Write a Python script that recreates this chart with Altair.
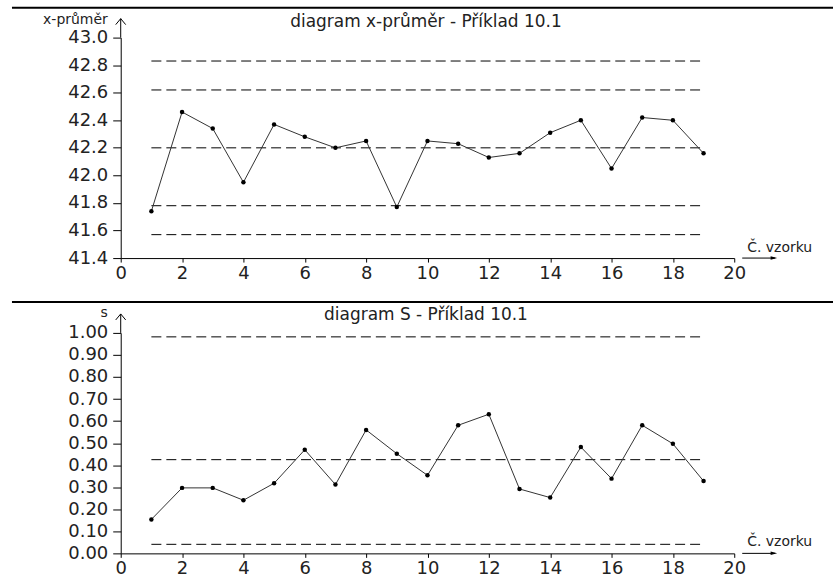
import altair as alt
import pandas as pd

# ---- data ----
sample = list(range(1, 20))
xbar = [41.74, 42.46, 42.34, 41.95, 42.37, 42.28, 42.20, 42.25, 41.77, 42.25,
        42.23, 42.13, 42.16, 42.31, 42.40, 42.05, 42.42, 42.40, 42.16]
s_vals = [0.154, 0.297, 0.297, 0.241, 0.318, 0.470, 0.312, 0.560, 0.452, 0.354,
          0.581, 0.631, 0.292, 0.253, 0.482, 0.339, 0.581, 0.497, 0.328]
xbar_limits = [42.83, 42.62, 42.20, 41.78, 41.57]
s_limits = [0.982, 0.425, 0.041]
x_ticks = [0, 2, 4, 6, 8, 10, 12, 14, 16, 18, 20]
xbar_ticks = [41.4, 41.6, 41.8, 42.0, 42.2, 42.4, 42.6, 42.8, 43.0]
s_ticks = [0.0, 0.1, 0.2, 0.3, 0.4, 0.5, 0.6, 0.7, 0.8, 0.9, 1.0]
titles = ["diagram x-průměr - Příklad 10.1", "diagram S - Příklad 10.1"]
y_titles = ["x-průměr", "s"]
x_title = "Č. vzorku"

FONT = "DejaVu Sans"
W, H = 615, 221


def panel(values, limits, domain, ticks, fmt, title, ytitle, title_y, ylab_y, xlab_y, sep_y):
    df = pd.DataFrame({"n": sample, "v": values})
    xs = alt.Scale(domain=[0, 20], nice=False)
    ys = alt.Scale(domain=domain, nice=False, zero=False)
    xax = alt.Axis(values=x_ticks, title=None, grid=False, tickSize=4, labelPadding=2,
                   labelFont=FONT, labelFontSize=18, labelColor="#222",
                   domainColor="black", tickColor="black", labelFlush=False,
                   labelOverlap=False)
    yax = alt.Axis(values=ticks, format=fmt, title=None, grid=False, tickSize=8,
                   labelPadding=5, labelFont=FONT, labelFontSize=18, labelColor="#222",
                   domainColor="black", tickColor="black", labelFlush=False,
                   labelOverlap=False)
    x = alt.X("n:Q", scale=xs, axis=xax)
    y = alt.Y("v:Q", scale=ys, axis=yax)

    base = alt.Chart(df)
    line = base.mark_line(color="#333", strokeWidth=1).encode(x=x, y=y)
    pts = base.mark_circle(size=20, color="black", opacity=1).encode(x=x, y=y)
    lim = alt.Chart(pd.DataFrame({"v": limits})).mark_rule(
        color="black", strokeWidth=1, strokeDash=[10, 5]
    ).encode(y=y, x=alt.datum(1), x2=alt.datum(19))

    one = pd.DataFrame({"a": [0]})
    sep = alt.Chart(one).mark_rule(color="black", strokeWidth=2).encode(
        x=alt.value(-109), x2=alt.value(714), y=alt.value(sep_y))
    yline = alt.Chart(one).mark_rule(color="black", strokeWidth=1).encode(
        x=alt.value(0), y=alt.value(0), y2=alt.value(-19))
    yhead = alt.Chart(one).mark_point(
        shape="M-1,1.2L0,0L1,1.2", size=100, filled=False, color="black",
        strokeWidth=1, opacity=1
    ).encode(x=alt.value(0), y=alt.value(-19))
    xline = alt.Chart(one).mark_rule(color="black", strokeWidth=1).encode(
        x=alt.value(623), x2=alt.value(656), y=alt.value(H))
    xhead = alt.Chart(one).mark_point(
        shape="M0,0L-2.6,-0.7L-2.6,0.7Z", size=25, filled=True, color="black", opacity=1
    ).encode(x=alt.value(658), y=alt.value(H))
    ttl = alt.Chart(one).mark_text(font=FONT, fontSize=17, align="center",
                                   baseline="alphabetic", color="#222").encode(
        x=alt.value(306), y=alt.value(title_y), text=alt.value(title))
    ylab = alt.Chart(one).mark_text(font=FONT, fontSize=14, align="right",
                                    baseline="alphabetic", color="#222").encode(
        x=alt.value(-13), y=alt.value(ylab_y), text=alt.value(ytitle))
    xlab = alt.Chart(one).mark_text(font=FONT, fontSize=14, align="left",
                                    baseline="alphabetic", color="#222").encode(
        x=alt.value(628), y=alt.value(xlab_y), text=alt.value(x_title))

    return alt.layer(lim, line, pts, sep, yline, yhead, xline, xhead, ttl, ylab, xlab).properties(
        width=W, height=H)


top = panel(xbar, xbar_limits, [41.4, 43.0], xbar_ticks, ".1f",
            titles[0], y_titles[0], -11, -14, H - 6, -30)
bottom = panel(s_vals, s_limits, [0.0, 1.0], s_ticks, ".2f",
               titles[1], y_titles[1], -13, -16, H - 7, -31)

chart = alt.vconcat(top, bottom, spacing=75, bounds="flush").properties(
    padding={"left": 11, "top": 6, "right": 0, "bottom": 0},
    background="white",
).configure_view(stroke=None)

chart.save("out.html", embed_options={"renderer": "svg", "actions": False})
